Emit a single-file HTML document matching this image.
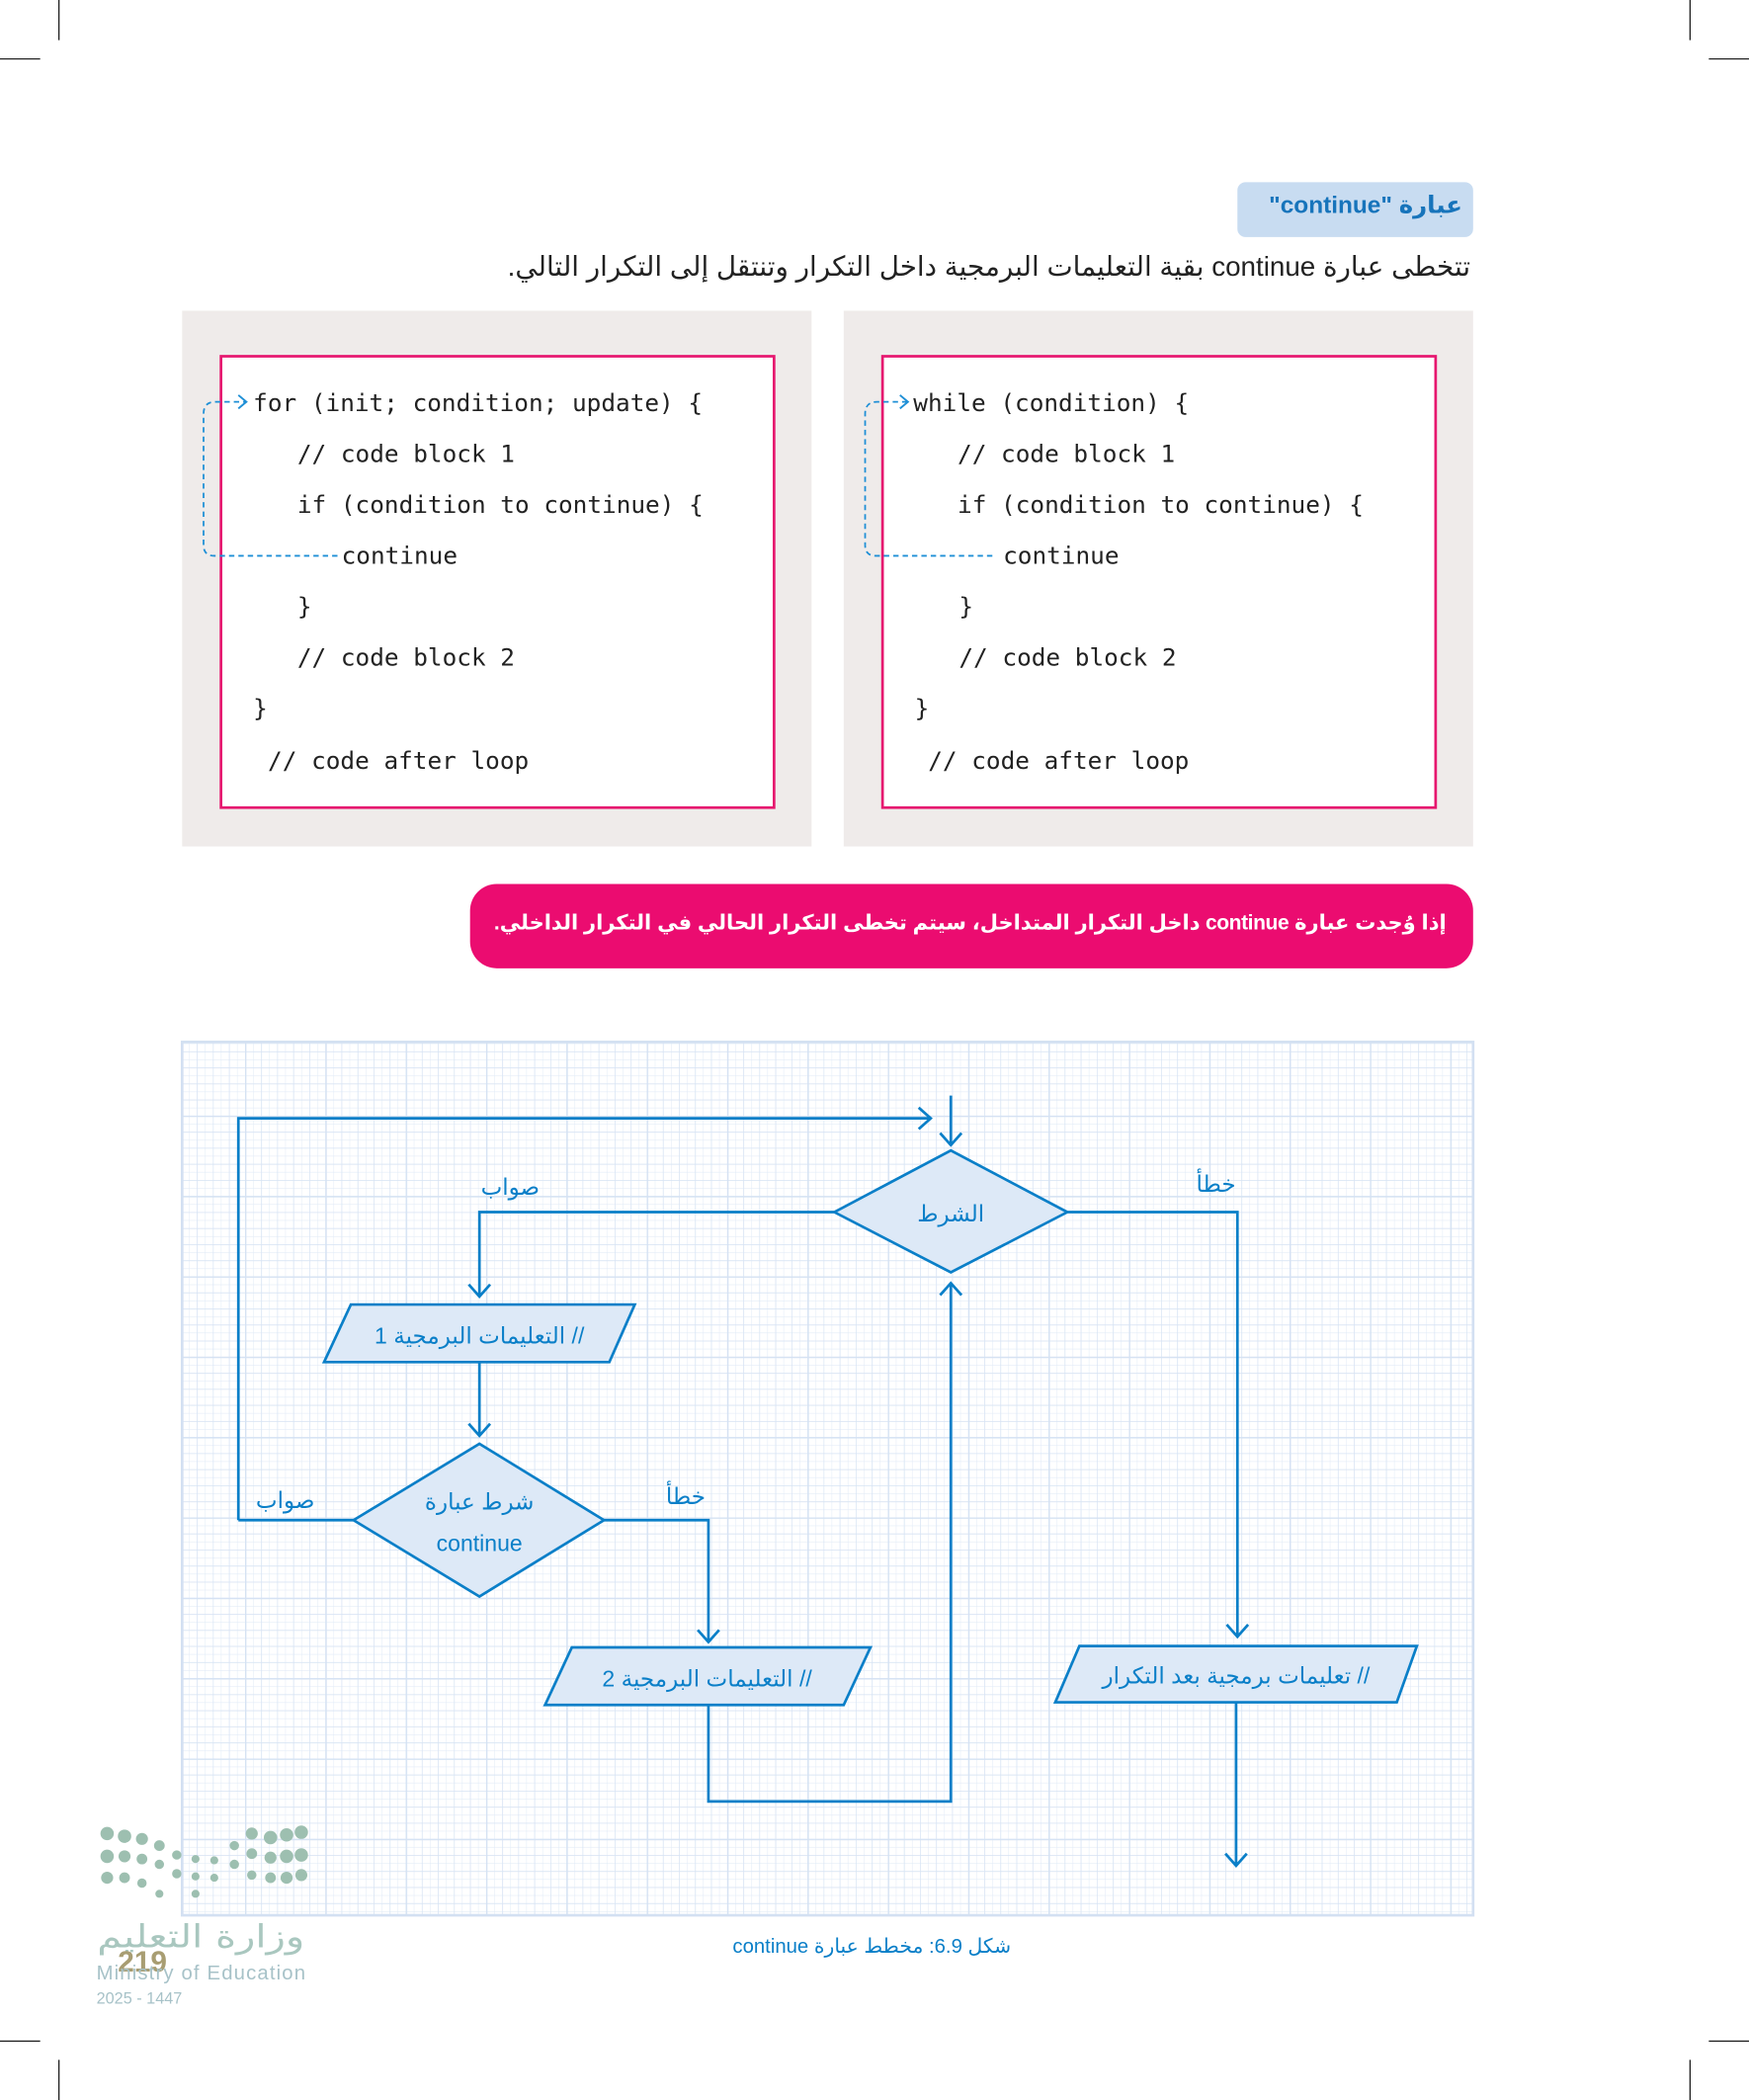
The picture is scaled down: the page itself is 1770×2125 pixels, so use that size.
<!DOCTYPE html>
<html><head><meta charset="utf-8"><style>
html,body{margin:0;padding:0;background:#fff;width:1770px;height:2125px;overflow:hidden}
#w{position:absolute;left:0;top:0;width:1306px;height:1568px;transform:scale(1.35528);transform-origin:0 0}
.t{position:absolute;font-family:"Liberation Sans","DejaVu Sans",sans-serif;direction:rtl;white-space:nowrap}
svg{position:absolute;left:0;top:0}
</style></head><body><div id="w">
<svg width="1306" height="1568" viewBox="0 0 1306 1568">
<defs>
<pattern id="mi" x="3" y="53" width="6" height="6" patternUnits="userSpaceOnUse"><path d="M0 0H6M0 0V6" stroke="#e2ebf7" stroke-width="0.8" fill="none"/></pattern>
<pattern id="md" x="3" y="53" width="12" height="12" patternUnits="userSpaceOnUse"><path d="M0 0H12M0 0V12" stroke="#d8e4f4" stroke-width="1" fill="none"/></pattern>
<pattern id="ma" x="3" y="53" width="60" height="60" patternUnits="userSpaceOnUse"><path d="M0 0H60M0 0V60" stroke="#d5e2f3" stroke-width="2" fill="none"/></pattern>
</defs>
<g stroke="#222" stroke-width="1">
<path d="M44 0V30M0 44H30M1262 0V30M1276 44H1306M44 1538V1568M0 1524H30M1262 1538V1568M1276 1524H1306"/>
</g>
<rect x="924" y="136" width="176" height="41" rx="6" fill="#c8dcf1"/>
<rect x="136" y="232" width="470" height="400" fill="#efebea"/>
<rect x="630" y="232" width="470" height="400" fill="#efebea"/>
<rect x="165" y="266" width="413" height="337" fill="#fff" stroke="#e6176f" stroke-width="2"/>
<rect x="659" y="266" width="413" height="337" fill="#fff" stroke="#e6176f" stroke-width="2"/>
<g font-family="'DejaVu Sans Mono','Liberation Mono',monospace" font-size="18" fill="#222">
<text x="189" y="307">for (init; condition; update) {</text>
<text x="222" y="345">// code block 1</text>
<text x="222" y="383">if (condition to continue) {</text>
<text x="255" y="421">continue</text>
<text x="222" y="459">}</text>
<text x="222" y="497">// code block 2</text>
<text x="189" y="535">}</text>
<text x="200" y="574">// code after loop</text>
<text x="682" y="307">while (condition) {</text>
<text x="715" y="345">// code block 1</text>
<text x="715" y="383">if (condition to continue) {</text>
<text x="749" y="421">continue</text>
<text x="716" y="459">}</text>
<text x="716" y="497">// code block 2</text>
<text x="683" y="535">}</text>
<text x="693" y="574">// code after loop</text>
</g>
<g fill="none" stroke="#1e8fd6" stroke-width="1.3" stroke-dasharray="4 3">
<path d="M252 415H160Q152 415 152 407V309Q152 300 161 300H183"/>
<path d="M741 415H654Q646 415 646 407V309Q646 300 655 300H677"/>
</g>
<g fill="none" stroke="#1e8fd6" stroke-width="1.4"><path d="M178 295L184 300L178 305M672 295L678 300L672 305"/></g>
<rect x="351" y="660" width="749" height="63" rx="20" fill="#eb0c70"/>
<rect x="136" y="778" width="964" height="652" fill="#fff"/>
<rect x="136" y="778" width="964" height="652" fill="url(#mi)"/>
<rect x="136" y="778" width="964" height="652" fill="url(#md)"/>
<rect x="136" y="778" width="964" height="652" fill="url(#ma)"/>
<rect x="136" y="778" width="964" height="652" fill="none" stroke="#d3e0f2" stroke-width="2"/>
<g fill="none" stroke="#0a7fc8" stroke-width="2">
<path d="M178 1135V835H695M686 827L695 835L686 843"/>
<path d="M710 818V855M702 846L710 855L718 846"/>
<path d="M623 905H358V968M350 959L358 968L366 959"/>
<path d="M797 905H924V1222M916 1213L924 1222L932 1213"/>
<path d="M358 1017V1072M350 1063L358 1072L366 1063"/>
<path d="M264 1135H178"/>
<path d="M451 1135H529V1226M521 1217L529 1226L537 1217"/>
<path d="M529 1273V1345H710V958M702 967L710 958L718 967"/>
<path d="M923 1271V1393M915 1384L923 1393L931 1384"/>
</g>
<g fill="#dde9f7" stroke="#0a7fc8" stroke-width="2">
<polygon points="623,905 710,859 797,905 710,950"/>
<polygon points="264,1135 358,1078 451,1135 358,1192"/>
<polygon points="262,974 474,974 455,1017 242,1017"/>
<polygon points="427,1230 650,1230 630,1273 407,1273"/>
<polygon points="806,1229 1058,1229 1043,1271 788,1271"/>
</g>
<g font-family="'Liberation Sans','DejaVu Sans',sans-serif" fill="#0a7fc8" font-size="17" text-anchor="middle">
<text x="710" y="912" direction="rtl">الشرط</text>
<text x="381" y="892" direction="rtl">صواب</text>
<text x="908" y="890" direction="rtl">خطأ</text>
<text x="213" y="1126" direction="rtl">صواب</text>
<text x="512" y="1123" direction="rtl">خطأ</text>
<text x="358" y="1127" direction="rtl">شرط عبارة</text>
<text x="358" y="1158">continue</text>
<text x="358" y="1003" direction="rtl">// التعليمات البرمجية 1</text>
<text x="528" y="1259" direction="rtl">// التعليمات البرمجية 2</text>
<text x="923" y="1257" direction="rtl">// تعليمات برمجية بعد التكرار</text>
<text x="651" y="1458" font-size="15" direction="rtl">شكل 6.9: مخطط عبارة continue</text>
</g>
<g fill="#9dbfb0">
<circle cx="80" cy="1369" r="5"/><circle cx="93" cy="1371" r="5"/><circle cx="106" cy="1373" r="4.5"/><circle cx="119" cy="1378" r="4"/><circle cx="132" cy="1385" r="3.5"/>
<circle cx="80" cy="1386" r="5"/><circle cx="93" cy="1386" r="4.5"/><circle cx="106" cy="1388" r="4"/><circle cx="119" cy="1392" r="3.5"/><circle cx="132" cy="1399" r="3.5"/>
<circle cx="80" cy="1402" r="4.5"/><circle cx="93" cy="1402" r="4"/><circle cx="106" cy="1406" r="3.5"/><circle cx="119" cy="1414" r="3"/>
<circle cx="146" cy="1388" r="3"/><circle cx="146" cy="1401" r="3"/><circle cx="146" cy="1414" r="3"/><circle cx="160" cy="1389" r="3"/><circle cx="160" cy="1402" r="3"/>
<circle cx="175" cy="1378" r="3.5"/><circle cx="175" cy="1392" r="3.5"/><circle cx="188" cy="1369" r="4.5"/><circle cx="188" cy="1384" r="4"/><circle cx="188" cy="1400" r="3.5"/>
<circle cx="202" cy="1372" r="5"/><circle cx="202" cy="1387" r="4.5"/><circle cx="202" cy="1402" r="4"/><circle cx="214" cy="1370" r="5"/><circle cx="214" cy="1386" r="5"/><circle cx="214" cy="1402" r="4.5"/><circle cx="225" cy="1368" r="5"/><circle cx="225" cy="1385" r="5"/><circle cx="225" cy="1400" r="4.5"/>
</g>
<text x="150" y="1454" text-anchor="middle" font-family="'DejaVu Sans',sans-serif" font-size="24" textLength="155" lengthAdjust="spacingAndGlyphs" fill="#a9c7bf" direction="rtl">وزارة التعليم</text>
<text x="88" y="1472" font-family="'Liberation Sans',sans-serif" font-weight="bold" font-size="22" fill="#a89d72">219</text>
<text x="72" y="1478" font-family="'Liberation Sans',sans-serif" font-size="15" textLength="156" fill="#a7c2c8">Ministry of Education</text>
<text x="72" y="1496" font-family="'Liberation Sans',sans-serif" font-size="12" fill="#a7c2c8">2025 - 1447</text>
</svg>
<div class="t" style="right:214px;top:143px;font-size:18px;font-weight:bold;color:#1774bb">عبارة "continue"</div>
<div class="t" style="right:208px;top:187px;font-size:20.5px;color:#222">تتخطى عبارة continue بقية التعليمات البرمجية داخل التكرار وتنتقل إلى التكرار التالي.</div>
<div class="t" style="right:226px;top:680px;font-size:15.5px;font-weight:bold;color:#fff;letter-spacing:-0.3px">إذا وُجدت عبارة continue داخل التكرار المتداخل، سيتم تخطى التكرار الحالي في التكرار الداخلي.</div>
</div></body></html>
